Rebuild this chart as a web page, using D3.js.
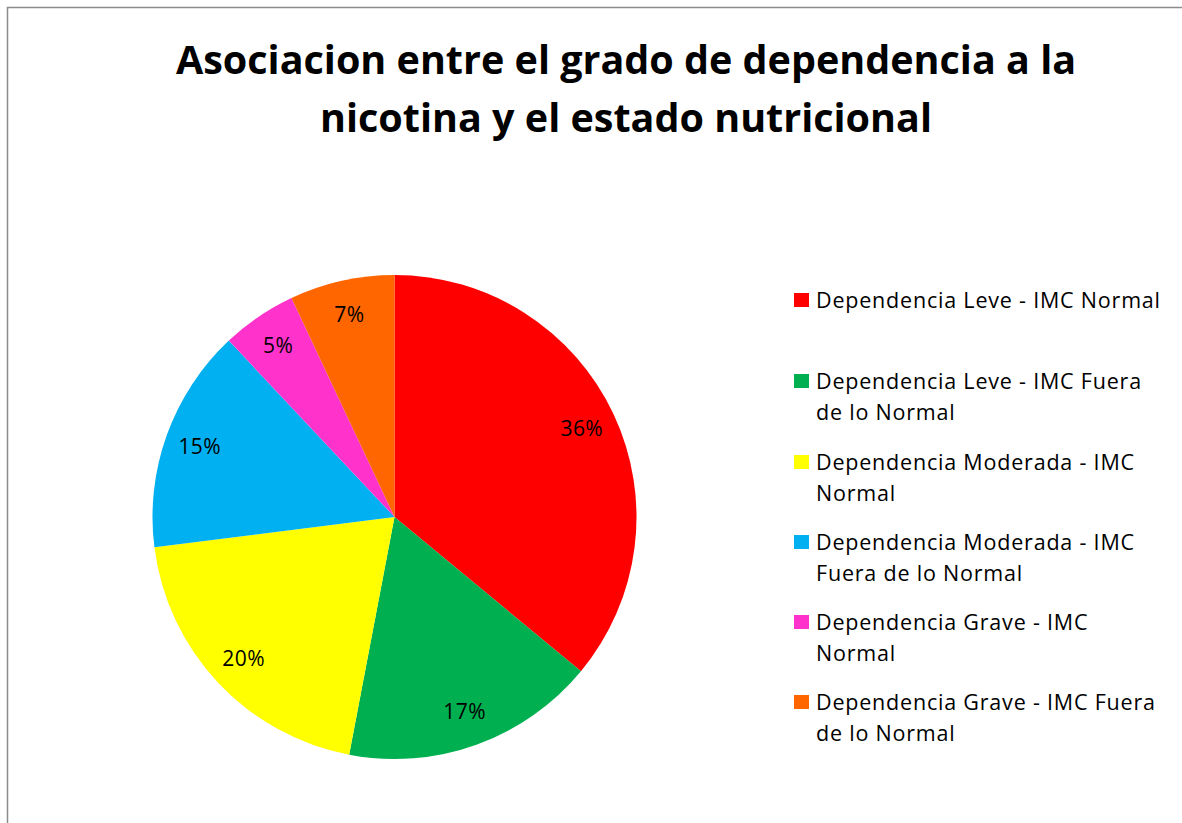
<!DOCTYPE html>
<html>
  <head>
    <meta charset="utf-8" />
    <title>Pie Chart</title>
    <script src="https://d3js.org/d3.v7.min.js"></script>
    <style>
        body{
            margin:0;
            background:#fff;
        }
        text{
            font-family: "Open Sans", sans-serif;
            fill:#000;
        }
    </style>
  </head>
  <body>
    <svg id="piechart">
        <g id="frame"></g>
        <g id="title"></g>
        <g id="slices"></g>
        <g id="labels"></g>
        <g id="legend"></g>
    </svg>

    <script>
      // data
      var categories = [
        "Dependencia Leve - IMC Normal",
        "Dependencia Leve - IMC Fuera de lo Normal",
        "Dependencia Moderada - IMC Normal",
        "Dependencia Moderada - IMC Fuera de lo Normal",
        "Dependencia Grave - IMC Normal",
        "Dependencia Grave - IMC Fuera de lo Normal"
      ];
      var values = [36, 17, 20, 15, 5, 7];
      var colors = ["#FF0000", "#00B050", "#FFFF00", "#00B0F0", "#FF33CC", "#FF6600"];
      // legend labels as they wrap in the picture
      var legendLines = [
        ["Dependencia Leve - IMC Normal"],
        ["Dependencia Leve - IMC Fuera", "de lo Normal"],
        ["Dependencia Moderada - IMC", "Normal"],
        ["Dependencia Moderada - IMC", "Fuera de lo Normal"],
        ["Dependencia Grave - IMC", "Normal"],
        ["Dependencia Grave - IMC Fuera", "de lo Normal"]
      ];
      var titleLines = ["Asociacion entre el grado de dependencia a la", "nicotina y el estado nutricional"];

      var width = 1182;
      var height = 823;
      var cx = 394.5, cy = 517, radius = 242;

      var svg = d3.select("#piechart")
        .attr("width", width)
        .attr("height", height);

      // chart frame (only top and left edges show)
      svg.select("#frame").append("path")
        .attr("d", "M7.5," + height + "V7.5H" + width)
        .attr("fill", "none")
        .attr("stroke", "#8c8c8c")
        .attr("stroke-width", 1.5);

      svg.select("#title").selectAll("text")
        .data(titleLines)
        .enter().append("text")
        .attr("x", 626)
        .attr("y", function(d, i) { return 74 + i * 58; })
        .attr("text-anchor", "middle")
        .attr("font-size", 39.5)
        .attr("font-weight", "bold")
        .text(function(d) { return d; });

      var total = d3.sum(values);
      var pie = d3.pie().sort(null).value(function(d) { return d; });
      var arcs = pie(values);

      var arc = d3.arc().innerRadius(0).outerRadius(radius);
      var labelArc = d3.arc().innerRadius(207).outerRadius(207);

      svg.select("#slices")
        .attr("transform", "translate(" + cx + "," + cy + ")")
        .selectAll("path")
        .data(arcs)
        .enter().append("path")
        .attr("d", arc)
        .attr("fill", function(d, i) { return colors[i]; });

      svg.select("#labels")
        .attr("transform", "translate(" + cx + "," + cy + ")")
        .selectAll("text")
        .data(arcs)
        .enter().append("text")
        .attr("transform", function(d) { return "translate(" + labelArc.centroid(d) + ")"; })
        .attr("dy", "0.35em")
        .attr("text-anchor", "middle")
        .attr("font-size", 21)
        .attr("letter-spacing", 0.4)
        .text(function(d) { return Math.round(d.value / total * 100) + "%"; });

      var itemY = [300, 381, 462, 542, 622, 702];
      var items = svg.select("#legend").selectAll("g")
        .data(categories)
        .enter().append("g")
        .attr("transform", function(d, i) { return "translate(794," + itemY[i] + ")"; });

      items.append("rect")
        .attr("x", 0)
        .attr("y", -7)
        .attr("width", 15)
        .attr("height", 14)
        .attr("fill", function(d, i) { return colors[i]; });

      items.append("text")
        .attr("x", 22)
        .attr("font-size", 21.5)
        .attr("letter-spacing", 0.8)
        .selectAll("tspan")
        .data(function(d, i) { return legendLines[i]; })
        .enter().append("tspan")
        .attr("x", 22)
        .attr("y", function(d, j) { return 7.5 + j * 31; })
        .text(function(d) { return d; });
    </script>
  </body>
</html>
